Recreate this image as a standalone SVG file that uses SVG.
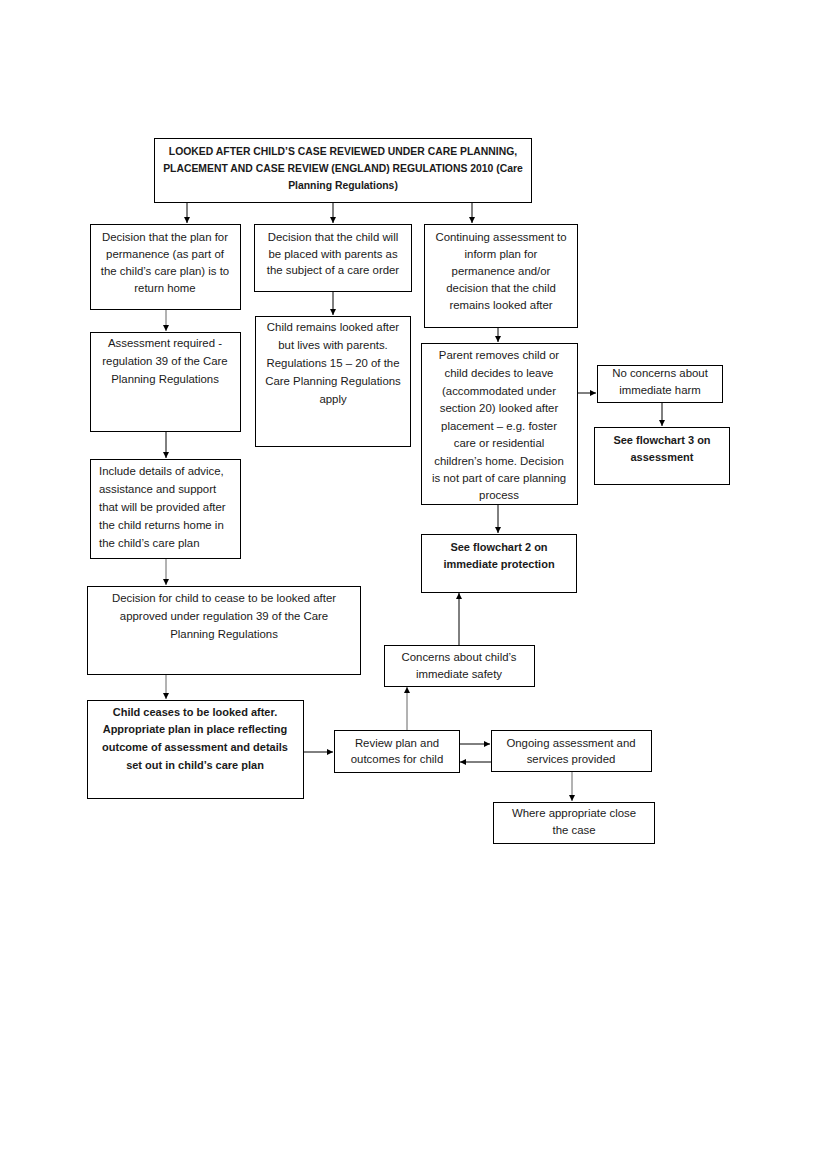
<svg xmlns="http://www.w3.org/2000/svg" width="827" height="1169" viewBox="0 0 827 1169">
<style>
.box{fill:#fff;stroke:#000;stroke-width:1}
.t{font-family:"Liberation Sans",Arial,sans-serif;font-size:11.4px;fill:#1a1a1a;text-anchor:middle}
.b{font-weight:bold;font-size:11px}
.tb{font-size:10.4px}
.l{text-anchor:start}
.c{stroke:#000;stroke-width:1;fill:none;marker-end:url(#ah)}
.g{stroke:#666;marker-end:url(#ahg)}
</style>
<defs>
<marker id="ah" markerWidth="8" markerHeight="8" refX="6" refY="3" orient="auto" markerUnits="userSpaceOnUse"><path d="M0,0 L6,3 L0,6 z" fill="#000"/></marker>
<marker id="ahg" markerWidth="8" markerHeight="8" refX="6" refY="3" orient="auto" markerUnits="userSpaceOnUse"><path d="M0,0 L6,3 L0,6 z" fill="#000"/></marker>
</defs>
<rect width="827" height="1169" fill="#fff"/>
<g id="connectors">
<line class="c" x1="187" y1="202" x2="187" y2="223"/>
<line class="c" x1="333" y1="202" x2="333" y2="223"/>
<line class="c" x1="472" y1="202" x2="472" y2="223"/>
<line class="c g" x1="166" y1="309" x2="166" y2="331"/>
<line class="c" x1="166" y1="431" x2="166" y2="458"/>
<line class="c g" x1="166" y1="558" x2="166" y2="585"/>
<line class="c g" x1="166" y1="674" x2="166" y2="699"/>
<line class="c" x1="333" y1="291" x2="333" y2="315"/>
<line class="c" x1="498" y1="327" x2="498" y2="342"/>
<line class="c" x1="578" y1="393" x2="596" y2="393"/>
<line class="c" x1="662" y1="402" x2="662" y2="426"/>
<line class="c" x1="498" y1="505" x2="498" y2="533"/>
<line class="c" x1="459" y1="645" x2="459" y2="593"/>
<line class="c g" x1="407" y1="730" x2="407" y2="687"/>
<line class="c" x1="303" y1="752" x2="333" y2="752"/>
<line class="c" x1="459" y1="744" x2="490" y2="744"/>
<line class="c" x1="491" y1="762" x2="460" y2="762"/>
<line class="c g" x1="572" y1="771" x2="572" y2="801"/>
</g>
<g id="top"><rect class="box" x="154.5" y="138.5" width="377" height="64"/>
<text class="t b tb" x="343" y="155">LOOKED AFTER CHILD’S CASE REVIEWED UNDER CARE PLANNING,</text>
<text class="t b tb" x="343" y="172">PLACEMENT AND CASE REVIEW (ENGLAND) REGULATIONS 2010 (Care</text>
<text class="t b tb" x="343" y="189">Planning Regulations)</text></g>
<g id="a1"><rect class="box" x="90.5" y="224.5" width="150" height="85"/>
<text class="t" x="165" y="241">Decision that the plan for</text>
<text class="t" x="165" y="258">permanence (as part of</text>
<text class="t" x="165" y="275">the child’s care plan) is to</text>
<text class="t" x="165" y="292">return home</text></g>
<g id="b1"><rect class="box" x="254.5" y="224.5" width="157" height="67"/>
<text class="t" x="333" y="241">Decision that the child will</text>
<text class="t" x="333" y="258">be placed with parents as</text>
<text class="t" x="333" y="274">the subject of a care order</text></g>
<g id="c1"><rect class="box" x="424.5" y="224.5" width="153" height="103"/>
<text class="t" x="501" y="241">Continuing assessment to</text>
<text class="t" x="501" y="258">inform plan for</text>
<text class="t" x="501" y="275">permanence and/or</text>
<text class="t" x="501" y="292">decision that the child</text>
<text class="t" x="501" y="309">remains looked after</text></g>
<g id="a2"><rect class="box" x="90.5" y="332.5" width="150" height="99"/>
<text class="t" x="165" y="347">Assessment required -</text>
<text class="t" x="165" y="365">regulation 39 of the Care</text>
<text class="t" x="165" y="383">Planning Regulations</text></g>
<g id="b2"><rect class="box" x="255.5" y="316.5" width="155" height="130"/>
<text class="t" x="333" y="331">Child remains looked after</text>
<text class="t" x="333" y="349">but lives with parents.</text>
<text class="t" x="333" y="367">Regulations 15 – 20 of the</text>
<text class="t" x="333" y="385">Care Planning Regulations</text>
<text class="t" x="333" y="403">apply</text></g>
<g id="c2"><rect class="box" x="421.5" y="343.5" width="156" height="161"/>
<text class="t" x="499" y="359">Parent removes child or</text>
<text class="t" x="499" y="377">child decides to leave</text>
<text class="t" x="499" y="395">(accommodated under</text>
<text class="t" x="499" y="412">section 20) looked  after</text>
<text class="t" x="499" y="430">placement – e.g. foster</text>
<text class="t" x="499" y="447">care or residential</text>
<text class="t" x="499" y="465">children’s home. Decision</text>
<text class="t" x="499" y="482">is not part of care planning</text>
<text class="t" x="499" y="499">process</text></g>
<g id="noconcerns"><rect class="box" x="597.5" y="365.5" width="125" height="37"/>
<text class="t" x="660" y="377">No concerns about</text>
<text class="t" x="660" y="394">immediate harm</text></g>
<g id="fc3"><rect class="box" x="594.5" y="427.5" width="135" height="57"/>
<text class="t b" x="662" y="444">See flowchart 3 on</text>
<text class="t b" x="662" y="461">assessment</text></g>
<g id="fc2"><rect class="box" x="421.5" y="534.5" width="155" height="58"/>
<text class="t b" x="499" y="551">See flowchart 2 on</text>
<text class="t b" x="499" y="568">immediate protection</text></g>
<g id="a3"><rect class="box" x="90.5" y="459.5" width="150" height="99"/>
<text class="t l" x="99" y="475">Include details of advice,</text>
<text class="t l" x="99" y="493">assistance and support</text>
<text class="t l" x="99" y="511">that will be provided  after</text>
<text class="t l" x="99" y="529">the child  returns home  in</text>
<text class="t l" x="99" y="547">the child’s care plan</text></g>
<g id="a4"><rect class="box" x="87.5" y="586.5" width="273" height="88"/>
<text class="t" x="224" y="602">Decision for child  to cease to be looked after</text>
<text class="t" x="224" y="620">approved under regulation 39 of the Care</text>
<text class="t" x="224" y="638">Planning  Regulations</text></g>
<g id="a5"><rect class="box" x="87.5" y="700.5" width="216" height="98"/>
<text class="t b" x="195" y="716">Child ceases to be looked after.</text>
<text class="t b" x="195" y="733">Appropriate plan in place reflecting</text>
<text class="t b" x="195" y="751">outcome of assessment and details</text>
<text class="t b" x="195" y="769">set out in child’s care plan</text></g>
<g id="concerns"><rect class="box" x="384.5" y="645.5" width="150" height="41"/>
<text class="t" x="459" y="661">Concerns about child’s</text>
<text class="t" x="459" y="678">immediate safety</text></g>
<g id="review"><rect class="box" x="334.5" y="730.5" width="125" height="42"/>
<text class="t" x="397" y="747">Review plan and</text>
<text class="t" x="397" y="763">outcomes for child</text></g>
<g id="ongoing"><rect class="box" x="491.5" y="730.5" width="160" height="41"/>
<text class="t" x="571" y="747">Ongoing assessment and</text>
<text class="t" x="571" y="763">services provided</text></g>
<g id="close"><rect class="box" x="493.5" y="802.5" width="161" height="41"/>
<text class="t" x="574" y="817">Where appropriate close</text>
<text class="t" x="574" y="834">the case</text></g>
</svg>
